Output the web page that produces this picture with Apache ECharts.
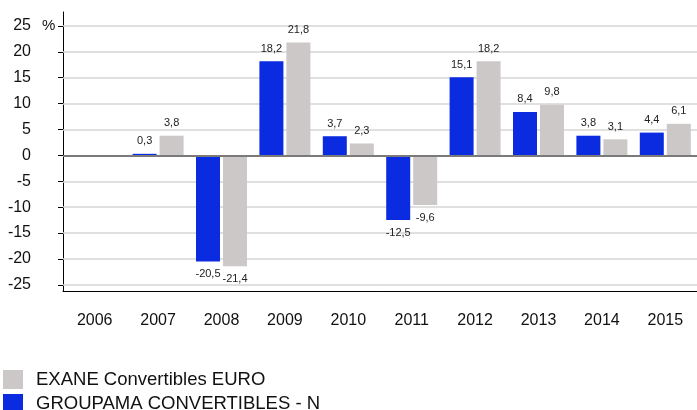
<!DOCTYPE html>
<html>
<head>
<meta charset="utf-8">
<script src="https://cdn.jsdelivr.net/npm/echarts@6/dist/echarts.min.js"></script>
<style>
  html, body { margin: 0; padding: 0; background: #fff; }
  #chart { width: 697px; height: 410px; }
</style>
</head>
<body>
<div id="chart"></div>
<script>
var years = ['2006', '2007', '2008', '2009', '2010', '2011', '2012', '2013', '2014', '2015'];
var groupama = [null, 0.3, -20.5, 18.2, 3.7, -12.5, 15.1, 8.4, 3.8, 4.4];
var exane = [null, 3.8, -21.4, 21.8, 2.3, -9.6, 18.2, 9.8, 3.1, 6.1];
var yTicks = [-25, -20, -15, -10, -5, 0, 5, 10, 15, 20, 25];

var BLUE = '#0b2be0';
var GRAY = '#ccc8c8';
var FONT = '"Liberation Sans", Arial, sans-serif';

// valeurs négatives : étiquette sous la barre
function toItems(arr) {
  return arr.map(function (v) {
    if (v === null) return '-';
    return { value: v, label: { position: v < 0 ? 'bottom' : 'top' } };
  });
}

var barLabel = {
  show: true,
  distance: 7,
  color: '#222',
  fontSize: 11,
  fontFamily: FONT,
  formatter: function (p) { return p.value.toFixed(1).replace('.', ','); }
};

var chart = echarts.init(document.getElementById('chart'));
var option = {
  animation: false,
  backgroundColor: '#fff',
  textStyle: { fontFamily: FONT },
  grid: { left: 63, right: -6, top: 12, bottom: 119 },
  legend: {
    orient: 'vertical',
    left: 3,
    top: 370,
    height: 60,
    padding: 0,
    itemWidth: 20,
    itemHeight: 19,
    itemGap: 5,
    icon: 'rect',
    data: ['EXANE Convertibles EURO', 'GROUPAMA CONVERTIBLES - N'],
    textStyle: { fontSize: 18.5, color: '#111', fontFamily: FONT, padding: [0, 0, 0, 8] }
  },
  graphic: [{
    type: 'text', left: 42, top: 18,
    style: { text: '%', fontSize: 15, fill: '#111', fontFamily: FONT }
  }],
  xAxis: {
    type: 'category',
    data: years,
    axisLine: { onZero: false, lineStyle: { color: '#000', width: 1 } },
    axisTick: { alignWithLabel: true, length: 5, lineStyle: { color: '#000' } },
    axisLabel: { margin: 22, fontSize: 16, color: '#111', fontFamily: FONT },
    splitLine: { show: false }
  },
  yAxis: {
    type: 'value',
    min: -26.2,
    max: 27.7,
    axisLine: { show: true, lineStyle: { color: '#000', width: 1 } },
    axisTick: { show: true, length: 5, customValues: yTicks, lineStyle: { color: '#000' } },
    axisLabel: { customValues: yTicks, margin: 32, fontSize: 16, color: '#111', fontFamily: FONT },
    splitLine: { show: false }
  },
  series: [
    {
      name: 'GROUPAMA CONVERTIBLES - N',
      type: 'bar',
      barWidth: 24,
      barGap: '12.5%',
      itemStyle: { color: BLUE },
      label: barLabel,
      data: toItems(groupama),
      markLine: {
        z: 1,
        silent: true,
        symbol: ['none', 'none'],
        label: { show: false },
        lineStyle: { color: '#d6d6d6', width: 1.5, type: 'solid' },
        data: yTicks.filter(function (v) { return v !== 0; }).map(function (v) { return { yAxis: v }; })
      }
    },
    {
      name: 'EXANE Convertibles EURO',
      type: 'bar',
      barWidth: 24,
      itemStyle: { color: GRAY },
      label: barLabel,
      data: toItems(exane),
      markLine: {
        silent: true,
        symbol: ['none', 'none'],
        label: { show: false },
        lineStyle: { color: '#7a7a7a', width: 2, type: 'solid' },
        data: [{ yAxis: 0 }]
      }
    }
  ]
};
chart.setOption(option);
</script>
</body>
</html>
